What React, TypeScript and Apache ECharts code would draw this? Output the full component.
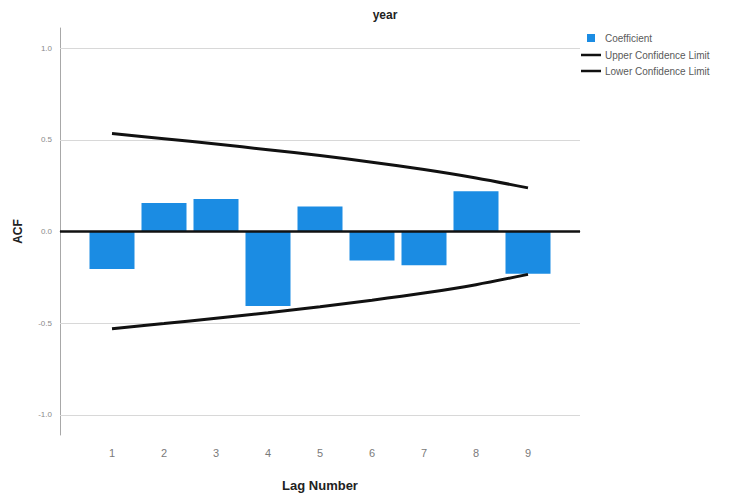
import React, { useEffect, useRef } from "react";
import * as echarts from "echarts";

// Autocorrelation function of "year", lags 1..9
const lags = [1, 2, 3, 4, 5, 6, 7, 8, 9];
const coefficient = [-0.204, 0.155, 0.177, -0.406, 0.137, -0.158, -0.184, 0.219, -0.231];
const upperLimit = [0.534, 0.506, 0.477, 0.446, 0.414, 0.378, 0.338, 0.292, 0.238];
const lowerLimit = [-0.53, -0.502, -0.473, -0.443, -0.41, -0.375, -0.336, -0.29, -0.234];
const gridValues = [1.0, 0.5, -0.5, -1.0];
const legendLabels = ["Coefficient", "Upper Confidence Limit", "Lower Confidence Limit"];

const FONT = "'Liberation Sans', Arial, sans-serif";
const BAR_COLOR = "#1b8ce3";

export default function App() {
  const ref = useRef<HTMLDivElement>(null);

  useEffect(() => {
    if (!ref.current) return;
    const chart = echarts.init(ref.current, undefined, { renderer: "svg" });

    const tickLabel = {
      show: true,
      position: "start" as const,
      distance: 8,
      color: "#8a8a8a",
      fontSize: 8,
      fontFamily: FONT,
      formatter: (p: any) => Number(p.value).toFixed(1),
    };

    const legendText = (text: string, x: number, y: number) => ({
      type: "text",
      x,
      y,
      style: {
        text,
        font: `10px ${FONT}`,
        fill: "#5a5a5a",
        textVerticalAlign: "middle",
      },
    });

    chart.setOption({
      animation: false,
      backgroundColor: "#ffffff",
      textStyle: { fontFamily: FONT },
      grid: { left: 60, right: 151, top: 28, bottom: 62 },
      xAxis: {
        type: "value",
        min: 0,
        max: 10,
        interval: 1,
        name: "Lag Number",
        nameLocation: "middle",
        nameGap: 44,
        nameTextStyle: { fontSize: 13, fontWeight: "bold", color: "#222", fontFamily: FONT },
        axisLine: { show: true, lineStyle: { color: "#a8a8a8", width: 1 } },
        axisTick: { show: false },
        splitLine: { show: false },
        axisLabel: {
          color: "#7a7a7a",
          fontSize: 11,
          margin: 12,
          fontFamily: FONT,
          formatter: (v: number) => (v >= 1 && v <= 9 ? String(v) : ""),
        },
      },
      yAxis: {
        type: "value",
        min: -1.11,
        max: 1.11,
        name: "ACF",
        nameLocation: "middle",
        nameRotate: 90,
        nameGap: 36,
        nameTextStyle: { fontSize: 12, fontWeight: "bold", color: "#222", fontFamily: FONT },
        axisLine: { show: true, onZero: false, lineStyle: { color: "#a8a8a8", width: 1 } },
        axisTick: { show: false },
        axisLabel: { show: false },
        splitLine: { show: false },
      },
      graphic: [
        {
          type: "text",
          x: 385,
          y: 15,
          style: {
            text: "year",
            font: `bold 12px ${FONT}`,
            fill: "#222",
            textAlign: "center",
            textVerticalAlign: "middle",
          },
        },
        {
          type: "rect",
          shape: { x: 587, y: 34, width: 8, height: 8 },
          style: { fill: BAR_COLOR },
        },
        legendText(legendLabels[0], 605, 38),
        {
          type: "line",
          shape: { x1: 581, y1: 55, x2: 601, y2: 55 },
          style: { stroke: "#111", lineWidth: 2.5 },
        },
        legendText(legendLabels[1], 605, 55),
        {
          type: "line",
          shape: { x1: 581, y1: 71, x2: 601, y2: 71 },
          style: { stroke: "#111", lineWidth: 2.5 },
        },
        legendText(legendLabels[2], 605, 71),
      ],
      series: [
        {
          name: legendLabels[0],
          type: "bar",
          barWidth: 45,
          z: 2,
          itemStyle: { color: BAR_COLOR },
          data: lags.map((l, i) => [l, coefficient[i]]),
          markLine: {
            silent: true,
            symbol: "none",
            z: 1,
            lineStyle: { color: "#d8d8d8", width: 1, type: "solid" },
            label: tickLabel,
            data: gridValues.map((v) => ({ yAxis: v })),
          },
        },
        {
          name: legendLabels[1],
          type: "line",
          smooth: 0.3,
          symbol: "none",
          z: 4,
          lineStyle: { color: "#111", width: 3 },
          data: lags.map((l, i) => [l, upperLimit[i]]),
          markLine: {
            silent: true,
            symbol: "none",
            lineStyle: { color: "#111", width: 2.5, type: "solid" },
            label: tickLabel,
            data: [{ yAxis: 0 }],
          },
        },
        {
          name: legendLabels[2],
          type: "line",
          smooth: 0.3,
          symbol: "none",
          z: 4,
          lineStyle: { color: "#111", width: 3 },
          data: lags.map((l, i) => [l, lowerLimit[i]]),
        },
      ],
    });

    return () => chart.dispose();
  }, []);

  return (
    <div
      ref={ref}
      style={{ position: "fixed", left: 0, top: 0, width: 731, height: 497, background: "#fff" }}
    />
  );
}
